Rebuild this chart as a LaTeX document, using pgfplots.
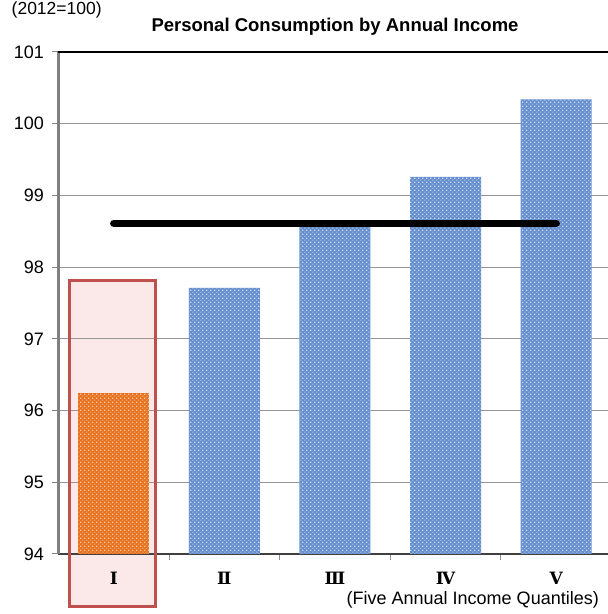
\documentclass[border=0pt]{standalone}
\usepackage{pgfplots}
\pgfplotsset{compat=1.18}
\usepackage{fontspec}
\setmainfont{Liberation Sans}
\newfontfamily\romanfont{DejaVu Serif}
\usetikzlibrary{patterns,backgrounds}

% coarse confetti texture for the bars
\pgfdeclarepatternformonly{confetti}{\pgfpointorigin}{\pgfpoint{4.4pt}{4.4pt}}{\pgfpoint{4.4pt}{4.4pt}}{%
  \pgfpathrectangle{\pgfpoint{0.3pt}{0.3pt}}{\pgfpoint{1.3pt}{1.3pt}}%
  \pgfpathrectangle{\pgfpoint{2.5pt}{2.5pt}}{\pgfpoint{1.3pt}{1.3pt}}%
  \pgfusepath{fill}%
}

\definecolor{barblue}{RGB}{100,142,206}
\definecolor{dotblue}{RGB}{208,222,244}
\definecolor{barorange}{RGB}{230,112,28}
\definecolor{dotorange}{RGB}{249,204,168}
\definecolor{gridgray}{RGB}{150,150,150}
\definecolor{hlred}{RGB}{192,80,77}
\definecolor{hlpink}{RGB}{251,233,233}

\begin{document}
\begin{tikzpicture}
\begin{axis}[
  name=ax,
  scale only axis,
  width=553pt, height=502pt,
  xmin=-0.5, xmax=4.5,
  ymin=94, ymax=101,
  ytick={94,...,101},
  ymajorgrids,
  grid style={gridgray, line width=1pt},
  axis x line*=bottom,
  axis y line*=left,
  x axis line style={black!75, line width=2.4pt},
  y axis line style={black!50, line width=2.2pt},
  tick align=outside,
  major tick length=6pt,
  ytick style={black!50, line width=1pt},
  xtick={0.5,1.5,2.5,3.5},
  xticklabels={},
  xtick style={black!45, line width=1pt},
  extra x ticks={0,1,2,3,4},
  extra x tick labels={Ⅰ,Ⅱ,Ⅲ,Ⅳ,Ⅴ},
  extra x tick style={major tick length=0pt,
    xticklabel style={font=\romanfont\bfseries\fontsize{17}{17}\selectfont, anchor=base, yshift=-31pt}},
  yticklabel style={font=\fontsize{18}{18}\selectfont, xshift=-5pt},
  /pgf/number format/assume math mode=true,
]
% quantile I
\addplot[ybar, bar width=71pt, bar shift=0pt, draw=none, fill=barorange,
  postaction={pattern=confetti, pattern color=dotorange}]
  coordinates {(0,96.24)};
% quantiles II--V
\addplot[ybar, bar width=71pt, bar shift=0pt, draw=none, fill=barblue,
  postaction={pattern=confetti, pattern color=dotblue}]
  coordinates {(1,97.71) (2,98.57) (3,99.26) (4,100.34)};
% average over all households
\addplot[black, line width=7.5pt, line cap=round] coordinates {(0,98.61) (4,98.61)};
\coordinate (hlA) at (axis cs:-0.405,93.27);
\coordinate (hlB) at (axis cs:0.375,97.82);
\end{axis}
\begin{scope}[on background layer]
  \fill[hlpink] (hlA) rectangle (hlB);
\end{scope}
\draw[hlred, line width=3pt] (hlA) rectangle (hlB);
\draw[black, line width=2.8pt] (ax.north west) -- (ax.north east);
\node[font=\bfseries\fontsize{18.5}{19}\selectfont, anchor=base]
  at ([yshift=20pt]ax.north) {Personal Consumption by Annual Income};
\node[font=\fontsize{17.5}{18}\selectfont, anchor=base west, inner sep=0pt]
  at ([xshift=-47pt, yshift=37pt]ax.north west) {(2012=100)};
\node[font=\fontsize{18}{18}\selectfont, anchor=base west, inner sep=0pt]
  at ([xshift=288pt, yshift=-51pt]ax.south west) {(Five Annual Income Quantiles)};
\pgfresetboundingbox
\path ([xshift=-58.5pt, yshift=52pt]ax.north west) rectangle ([xshift=549.5pt, yshift=-562pt]ax.north west);
\end{tikzpicture}
\end{document}
